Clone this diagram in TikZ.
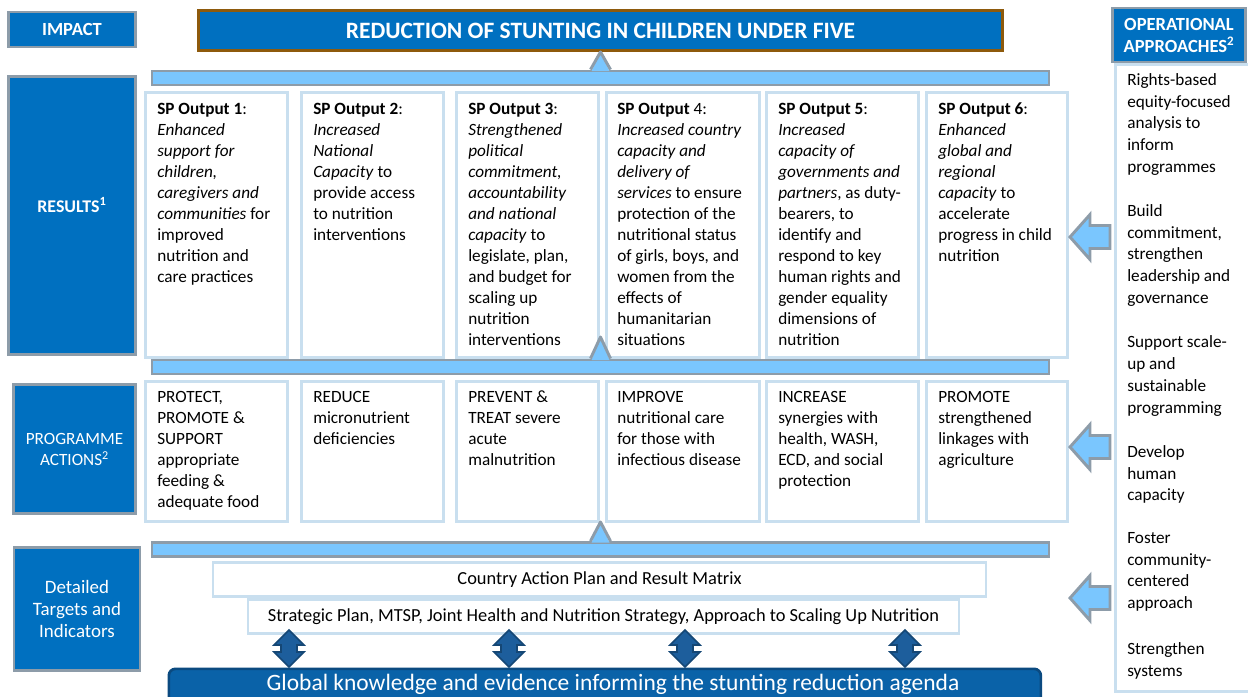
\documentclass[tikz,border=0pt]{standalone}
\usepackage{fontspec}
\setmainfont{Carlito}
\usepackage{xcolor}

\definecolor{unblue}{HTML}{0070C0}
\definecolor{barfill}{HTML}{7AC6FE}
\definecolor{bargray}{HTML}{8D9CA9}
\definecolor{boxline}{HTML}{C9DFEF}
\definecolor{titlerim}{HTML}{8E5A0C}
\definecolor{deepblue}{HTML}{0A62A8}
\definecolor{deeprim}{HTML}{0B4A80}
\definecolor{dblfill}{HTML}{1D5E9C}
\definecolor{dblrim}{HTML}{154775}

\newcommand{\bodyfont}{\fontsize{12.9}{15.75}\selectfont}
\newcommand{\planfont}{\fontsize{13.8}{16}\selectfont}

\begin{document}
\begin{tikzpicture}[x=0.75pt,y=-0.75pt,
  sized/.style 2 args={minimum width={(#1)*0.75pt},minimum height={(#2)*0.75pt}},
  labbox/.style={fill=unblue,draw=bargray,line width=2.2pt,text=white,align=center,inner sep=0pt},
  labtext/.style={text=white,align=center,inner sep=0pt},
  titlebox/.style={fill=unblue,draw=titlerim,line width=2.2pt,text=white,inner sep=0pt,
    font=\bfseries\fontsize{17.6}{20}\selectfont},
  bar/.style={fill=barfill,draw=bargray,line width=2.2pt,inner sep=0pt},
  outbox/.style={fill=white,draw=boxline,line width=2.2pt,inner sep=0pt},
  celltext/.style={anchor=north west,inner sep=0pt,align=left,font=\bodyfont},
  sidetext/.style={anchor=north west,inner sep=0pt,align=left,font=\fontsize{12.9}{16.35}\selectfont},
  sidearrow/.style={fill=barfill,draw=bargray,line width=2.2pt,line join=miter},
  dblarrow/.style={fill=dblfill,draw=dblrim,line width=1.2pt,line join=miter},
  globalbar/.style={fill=deepblue,draw=deeprim,line width=2pt,rounded corners=5pt,inner sep=0pt}]
\useasboundingbox (0,0) rectangle (1248,696);

% level labels on the left
\node (impact) [labbox,font=\bfseries\fontsize{13.9}{15}\selectfont,sized={127}{35}] at (72,29.5) {IMPACT};
\node (results) [labbox,sized={127}{278}] at (72,215.5) {};
\node (resultstxt) [labtext,font=\bfseries\fontsize{13.4}{15}\selectfont] at (72,205) {RESULTS\textsuperscript{1}};
\node (actions) [labbox,font=\bodyfont,sized={122}{129}] at (74.5,449) {PROGRAMME\\ACTIONS\textsuperscript{2}};
\node (targets) [labbox,font=\fontsize{14.2}{16.7}\selectfont,sized={126}{123}] at (77,609) {Detailed\\Targets and\\Indicators};

\node (title) [titlebox,sized={804}{40}] at (600.5,30.5) {REDUCTION OF STUNTING IN CHILDREN UNDER FIVE};

% output and action boxes
\foreach \i/\l/\r in {1/144/286,2/300/442,3/455/597,4/605/758,5/765/917,6/925/1066}{
  \node (out\i) [outbox,anchor=north west,sized={\r-\l}{265}] at (\l,91) {};
  \node (act\i) [outbox,anchor=north west,sized={\r-\l}{140}] at (\l,380) {};
}

\node (out1txt) [celltext] at ([shift={(13,11.5)}]out1.north west)
  {\textbf{SP Output 1}:\\\textit{Enhanced}\\\textit{support for}\\\textit{children,}\\\textit{caregivers and}\\
   \textit{communities} for\\improved\\nutrition and\\care practices};
\node (out2txt) [celltext] at ([shift={(13,11.5)}]out2.north west)
  {\textbf{SP Output 2}:\\\textit{Increased}\\\textit{National}\\\textit{Capacity} to\\provide access\\to nutrition\\interventions};
\node (out3txt) [celltext] at ([shift={(13,11.5)}]out3.north west)
  {\textbf{SP Output 3}:\\\textit{Strengthened}\\\textit{political}\\\textit{commitment,}\\\textit{accountability}\\
   \textit{and national}\\\textit{capacity} to\\legislate, plan,\\and budget for\\scaling up\\nutrition\\interventions};
\node (out4txt) [celltext] at ([shift={(12,11.5)}]out4.north west)
  {\textbf{SP Output} 4:\\\textit{Increased country}\\\textit{capacity and}\\\textit{delivery of}\\\textit{services} to ensure\\
   protection of the\\nutritional status\\of girls, boys, and\\women from the\\effects of\\humanitarian\\situations};
\node (out5txt) [celltext] at ([shift={(13,11.5)}]out5.north west)
  {\textbf{SP Output 5}:\\\textit{Increased}\\\textit{capacity of}\\\textit{governments and}\\\textit{partners}, as duty-\\
   bearers, to\\identify and\\respond to key\\human rights and\\gender equality\\dimensions of\\nutrition};
\node (out6txt) [celltext] at ([shift={(13,11.5)}]out6.north west)
  {\textbf{SP Output 6}:\\\textit{Enhanced}\\\textit{global and}\\\textit{regional}\\\textit{capacity} to\\accelerate\\progress in child\\nutrition};

\node (act1txt) [celltext] at ([shift={(13,11.5)}]act1.north west)
  {PROTECT,\\PROMOTE \&\\SUPPORT\\appropriate\\feeding \&\\adequate food};
\node (act2txt) [celltext] at ([shift={(13,11.5)}]act2.north west)
  {REDUCE\\micronutrient\\deficiencies};
\node (act3txt) [celltext] at ([shift={(13,10.5)}]act3.north west)
  {PREVENT \&\\TREAT severe\\acute\\malnutrition};
\node (act4txt) [celltext] at ([shift={(12,11.5)}]act4.north west)
  {IMPROVE\\nutritional care\\for those with\\infectious disease};
\node (act5txt) [celltext] at ([shift={(13,11.5)}]act5.north west)
  {INCREASE\\synergies with\\health, WASH,\\ECD, and social\\protection};
\node (act6txt) [celltext] at ([shift={(13,11.5)}]act6.north west)
  {PROMOTE\\strengthened\\linkages with\\agriculture};

% bars with their upward tips
\node (barA) [bar,sized={897}{14}] at (600.5,78) {};
\node (barB) [bar,sized={897}{14}] at (600.5,367) {};
\node (barC) [bar,sized={897}{14}] at (600.5,549.5) {};
\coordinate (tipB) at (600.5,337);
\coordinate (tipC) at (600.5,522);
\foreach \b/\t in {barA/title.south,barB/tipB,barC/tipC}{
  \fill[barfill] ([shift={(-9,1.6)}]\b.north) -- (\t) -- ([shift={(9,1.6)}]\b.north) -- cycle;
  \draw[bargray,line width=2.2pt,line join=round] ([shift={(-10,0)}]\b.north) -- (\t) -- ([shift={(10,0)}]\b.north);
}

% plans at the bottom
\node (country) [outbox,sized={773}{34},font=\planfont] at (599.5,579.5) {Country Action Plan and Result Matrix};
\node (strategy) [outbox,sized={711}{34},font=\planfont] at (603.5,616.5)
  {Strategic Plan, MTSP, Joint Health and Nutrition Strategy, Approach to Scaling Up Nutrition};

\node (global) [globalbar,sized={872}{42},anchor=north west] at (167.5,667.5) {};
\node (globaltxt) [anchor=base,text=white,inner sep=0pt,font=\fontsize{17.6}{20}\selectfont] at (613,690.5)
  {Global knowledge and evidence informing the stunting reduction agenda};

\foreach \c in {289,509,685,905}
  \draw[dblarrow] (\c,630) -- (\c+15,645) -- (\c+8,645) -- (\c+8,652) -- (\c+15,652) -- (\c,667)
    -- (\c-15,652) -- (\c-8,652) -- (\c-8,645) -- (\c-15,645) -- cycle;

% operational approaches panel
\node (panel) [outbox,anchor=north west,sized={140}{627}] at (1114,63) {};
\node (approaches) [labbox,font=\bfseries\fontsize{13.9}{16.5}\selectfont,sized={133}{54}] at (1179,35)
  {OPERATIONAL\\APPROACHES\textsuperscript{2}};

\node (appr1) [sidetext] at (1127,73) {Rights-based\\equity-focused\\analysis to\\inform\\programmes};
\node (appr2) [sidetext] at (1127,204) {Build\\commitment,\\strengthen\\leadership and\\governance};
\node (appr3) [sidetext] at (1127,335.5) {Support scale-\\up and\\sustainable\\programming};
\node (appr4) [sidetext] at (1127,445) {Develop\\human\\capacity};
\node (appr5) [sidetext] at (1127,532) {Foster\\community-\\centered\\approach};
\node (appr6) [sidetext] at (1127,642) {Strengthen\\systems};

\foreach \y in {237,447,598}
  \draw[sidearrow] (1110,\y-11.5) -- (1090,\y-11.5) -- (1090,\y-22.5) -- (1070,\y)
    -- (1090,\y+22.5) -- (1090,\y+11.5) -- (1110,\y+11.5) -- cycle;
\end{tikzpicture}
\end{document}
